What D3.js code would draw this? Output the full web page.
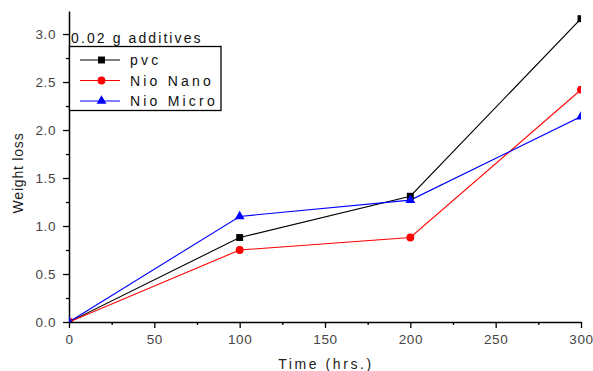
<!DOCTYPE html>
<html>
<head>
<meta charset="utf-8">
<script src="https://cdn.jsdelivr.net/npm/d3@7"></script>
<style>
  body { margin: 0; background: #fff; }
  text { font-family: Arial, "Liberation Sans", sans-serif; }
</style>
</head>
<body>
<div id="chart"></div>
<script>
var width = 593,
    height = 371;

// data
var times = [0, 100, 200, 300];
var pvc = [0, 0.88, 1.31, 3.16];
var nioNano = [0, 0.75, 0.88, 2.42];
var nioMicro = [0, 1.10, 1.27, 2.14];
var seriesNames = ["pvc", "Nio Nano", "Nio Micro"];
var seriesColors = ["#000000", "#ff0000", "#0000ff"];
var seriesShapes = [d3.symbolSquare, d3.symbolCircle, d3.symbolTriangle];
var xTicks = [0, 50, 100, 150, 200, 250, 300];
var yTicks = [0, 0.5, 1.0, 1.5, 2.0, 2.5, 3.0];

var x = d3.scaleLinear().domain([0, 300]).range([69, 581]);
var y = d3.scaleLinear().domain([0, 3.24]).range([322, 11]);

var svg = d3.select("#chart").append("svg")
    .attr("width", width)
    .attr("height", height);

// markers are cut off at the plot edges, like in the original
svg.append("defs").append("clipPath").attr("id", "plot")
  .append("rect")
    .attr("x", x(0)).attr("y", 0)
    .attr("width", x(300) - x(0)).attr("height", y(0));

// axes
var xAxis = svg.append("g")
    .attr("transform", "translate(0," + y(0) + ")")
    .call(d3.axisBottom(x).tickValues(xTicks).tickSize(6).tickSizeOuter(0).tickFormat(d3.format("d")));
svg.append("g")
    .attr("transform", "translate(0," + y(0) + ")")
    .call(d3.axisBottom(x).tickValues(d3.range(25, 300, 50)).tickSize(3).tickFormat(""))
    .select(".domain").remove();

var yAxis = svg.append("g")
    .attr("transform", "translate(" + x(0) + ",0)")
    .call(d3.axisLeft(y).tickValues(yTicks).tickSize(6).tickSizeOuter(0).tickFormat(d3.format(".1f")));
svg.append("g")
    .attr("transform", "translate(" + x(0) + ",0)")
    .call(d3.axisLeft(y).tickValues([0.25, 0.75, 1.25, 1.75, 2.25, 2.75]).tickSize(3).tickFormat(""))
    .select(".domain").remove();

svg.selectAll(".domain").attr("stroke", "#000").attr("stroke-width", 1.5);
svg.selectAll(".tick line").attr("stroke", "#000").attr("stroke-width", 1.3);
svg.selectAll(".tick text")
    .attr("font-size", 13.5)
    .attr("letter-spacing", 0.6)
    .attr("fill", "#444")
    .attr("font-family", "Arial, 'Liberation Sans', sans-serif");
xAxis.selectAll(".tick text").attr("dy", "0.95em");
yAxis.selectAll(".tick text").attr("x", -13);

// axis titles
svg.append("text")
    .attr("transform", "translate(23,173) rotate(-90)")
    .attr("text-anchor", "middle")
    .attr("font-size", 14)
    .attr("letter-spacing", 0.8)
    .attr("fill", "#222")
    .text("Weight loss");
svg.append("text")
    .attr("x", 326)
    .attr("y", 369)
    .attr("text-anchor", "middle")
    .attr("font-size", 14)
    .attr("letter-spacing", 2.6)
    .attr("fill", "#222")
    .text("Time (hrs.)");

// series
var series = [pvc, nioNano, nioMicro].map(function(vals, i) {
  return { name: seriesNames[i], color: seriesColors[i], shape: seriesShapes[i],
           points: vals.map(function(v, j) { return { t: times[j], v: v }; }) };
});

var line = d3.line()
    .x(function(d) { return x(d.t); })
    .y(function(d) { return y(d.v); });

var plot = svg.append("g").attr("clip-path", "url(#plot)");

plot.selectAll(".series")
    .data(series)
  .enter().append("path")
    .attr("d", function(d) { return line(d.points); })
    .attr("fill", "none")
    .attr("stroke", function(d) { return d.color; })
    .attr("stroke-width", 1.1);

series.forEach(function(s) {
  plot.selectAll(null)
      .data(s.points)
    .enter().append("path")
      .attr("transform", function(d) { return "translate(" + x(d.t) + "," + y(d.v) + ")"; })
      .attr("d", d3.symbol().type(s.shape).size(s.shape === d3.symbolTriangle ? 42 : 48))
      .attr("fill", s.color);
});

// legend
svg.append("text")
    .attr("x", 71)
    .attr("y", 43)
    .attr("font-size", 14)
    .attr("letter-spacing", 2.1)
    .attr("fill", "#111")
    .text("0.02 g additives");

var legend = svg.append("g");
legend.append("rect")
    .attr("x", 69.5).attr("y", 46.5)
    .attr("width", 151.5).attr("height", 64)
    .attr("fill", "#fff")
    .attr("stroke", "#000")
    .attr("stroke-width", 1.3);

var items = legend.selectAll(".item")
    .data(series)
  .enter().append("g")
    .attr("transform", function(d, i) { return "translate(0," + (60 + i * 20.5) + ")"; });
items.append("line")
    .attr("x1", 80).attr("x2", 120)
    .attr("stroke", function(d) { return d.color; })
    .attr("stroke-width", 1.1);
items.append("path")
    .attr("transform", "translate(101.5,0)")
    .attr("d", function(d) { return d3.symbol().type(d.shape).size(d.shape === d3.symbolTriangle ? 42 : 48)(); })
    .attr("fill", function(d) { return d.color; });
items.append("text")
    .attr("x", 130)
    .attr("y", 5)
    .attr("font-size", 14)
    .attr("letter-spacing", 3.2)
    .attr("fill", "#111")
    .text(function(d) { return d.name; });
</script>
</body>
</html>
